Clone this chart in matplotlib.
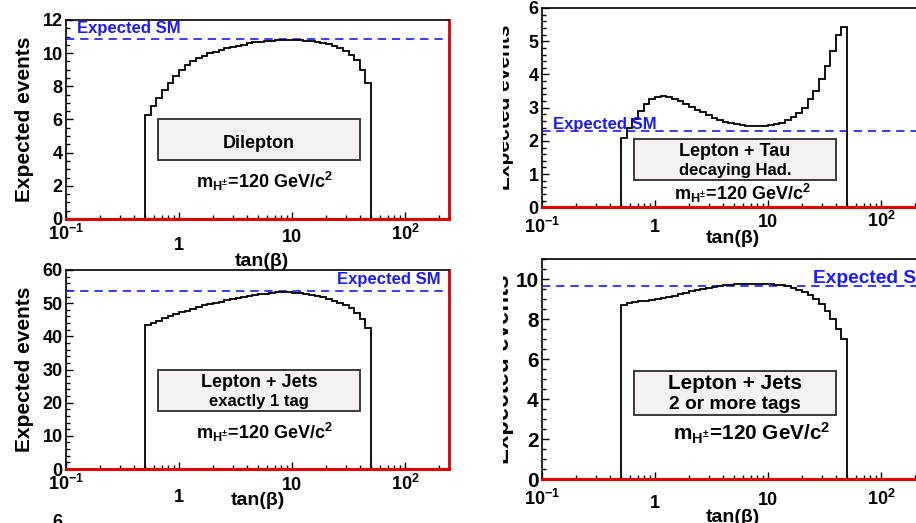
import numpy as np
import matplotlib.pyplot as plt
from matplotlib.patches import Rectangle
from matplotlib.ticker import MultipleLocator, LogLocator, NullFormatter
from matplotlib.transforms import Bbox, TransformedBbox, offset_copy

plt.rcParams['font.family'] = 'Liberation Sans'
plt.rcParams['font.weight'] = 'bold'
plt.rcParams['axes.labelweight'] = 'bold'
plt.rcParams['mathtext.fontset'] = 'custom'
for k in ('rm', 'it', 'bf', 'sf'):
    plt.rcParams['mathtext.' + k] = 'Liberation Sans:bold'

# 40 log bins in tan(beta), 0.5 .. 50
tanb_edges = np.logspace(-0.3, 1.7, 41)

dilepton = [6.3, 6.8, 7.3, 7.8, 8.2, 8.6, 9.0, 9.3, 9.5, 9.7,
            9.85, 10.0, 10.1, 10.2, 10.3, 10.4, 10.45, 10.5, 10.6, 10.65,
            10.7, 10.72, 10.75, 10.78, 10.8, 10.8, 10.78, 10.77, 10.75, 10.72,
            10.68, 10.62, 10.55, 10.45, 10.32, 10.15, 9.9, 9.6, 9.0, 8.2]
lep_tau = [2.1, 2.4, 2.65, 2.9, 3.1, 3.25, 3.33, 3.35, 3.33, 3.27,
           3.2, 3.1, 3.02, 2.94, 2.86, 2.77, 2.7, 2.63, 2.57, 2.53,
           2.5, 2.47, 2.45, 2.44, 2.44, 2.45, 2.47, 2.5, 2.55, 2.63,
           2.72, 2.85, 3.0, 3.25, 3.5, 3.85, 4.25, 4.7, 5.2, 5.42]
lep_jets_1tag = [43.5, 44.1, 44.7, 45.4, 46.0, 46.6, 47.2, 47.7, 48.3, 48.8,
                 49.3, 49.7, 50.1, 50.5, 50.9, 51.2, 51.5, 51.8, 52.1, 52.4,
                 52.7, 52.9, 53.1, 53.3, 53.3, 53.3, 53.2, 53.0, 52.8, 52.5,
                 52.2, 51.8, 51.3, 50.8, 50.2, 49.4, 48.4, 47.0, 45.2, 42.5]
lep_jets_2tag = [8.73, 8.8, 8.86, 8.9, 8.93, 8.96, 9.0, 9.05, 9.1, 9.17,
                 9.25, 9.32, 9.4, 9.46, 9.52, 9.57, 9.62, 9.67, 9.71, 9.74,
                 9.76, 9.77, 9.78, 9.78, 9.78, 9.77, 9.76, 9.74, 9.7, 9.65,
                 9.57, 9.47, 9.35, 9.2, 9.0, 8.75, 8.4, 8.0, 7.5, 7.0]

sm_dilepton = 10.85
sm_lep_tau = 2.31
sm_lep_jets_1tag = 53.8
sm_lep_jets_2tag = 9.65

xtick_pos = [0.1, 1, 10, 100]
xtick_txt = [r'$10^{-1}$', '1', '10', r'$10^{2}$']
mh_txt = r'$m_{H^{\pm}}$=120 GeV/c$^{2}$'

W, H = 916, 523
fig = plt.figure(figsize=(W / 100, H / 100), dpi=100)


def px(l, t, r, b):
    return [l / W, (H - b) / H, (r - l) / W, (b - t) / H]


def panel(rect, counts, sm, ymax, ymaj, ymin, lines, box_y, line_y, mh_xy,
          sm_xy, sm_ha, drops, xlab_xy, lab_dx=-41, scale=1.0, clip_x=None):
    ax = fig.add_axes(rect)
    ax.set_xscale('log')
    ax.set_xlim(0.1, 245)
    ax.set_ylim(0, ymax)

    ax.stairs(counts, tanb_edges, baseline=0, color='black', lw=1.3, zorder=4)
    ax.axhline(sm, color='#1a1aff', lw=1.2, ls=(0, (5, 3.5)), zorder=3)
    ax.axhline(0, color='#e00000', lw=2.2, zorder=6, clip_on=False)

    for s in ax.spines.values():
        s.set_linewidth(1.2)
    ax.spines['right'].set_color('#d00000')
    ax.spines['right'].set_linewidth(2)

    ax.yaxis.set_major_locator(MultipleLocator(ymaj))
    ax.yaxis.set_minor_locator(MultipleLocator(ymin))
    ax.xaxis.set_major_locator(LogLocator(base=10))
    ax.xaxis.set_minor_locator(LogLocator(base=10, subs=range(2, 10)))
    ax.xaxis.set_major_formatter(NullFormatter())
    ax.xaxis.set_minor_formatter(NullFormatter())
    ax.tick_params(which='both', direction='in', top=False, right=False)
    ax.tick_params(which='major', length=5, width=1)
    ax.tick_params(which='minor', length=2.8, width=1)
    ax.tick_params(axis='y', labelsize=13 * scale, pad=2.5)

    # x tick labels, ROOT style
    for pos, txt, d in zip(xtick_pos, xtick_txt, drops):
        tr = offset_copy(ax.get_xaxis_transform(), fig=fig, y=-d, units='dots')
        ax.text(pos, 0, txt, transform=tr, ha='center', va='baseline', fontsize=13)

    ax.set_xlabel('tan(β)', fontsize=14, va='center')
    ax.xaxis.set_label_coords(*xlab_xy)
    ax.set_ylabel('Expected events', fontsize=15 * scale, va='center')
    ax.yaxis.set_label_coords(lab_dx / 383, 0.5)
    if clip_x is not None:
        lab = ax.yaxis.label
        lab.set_clip_box(TransformedBbox(Bbox([[clip_x / W, 0], [1, 1]]), fig.transFigure))
        lab.set_clip_on(True)

    bx0, bx1 = 0.240, 0.768
    ax.add_patch(Rectangle((bx0, box_y[0]), bx1 - bx0, box_y[1] - box_y[0],
                           transform=ax.transAxes, fc='#f5f0f3', ec='#3a3a3a',
                           lw=1.4, zorder=5))
    sizes = [13 * scale, 12 * scale]
    for txt, y, fs in zip(lines, line_y, sizes):
        ax.text((bx0 + bx1) / 2, y, txt, transform=ax.transAxes, ha='center',
                va='center', fontsize=fs, zorder=6)
    ax.text(mh_xy[0], mh_xy[1], mh_txt, transform=ax.transAxes, ha='center',
            va='center', fontsize=13 * scale, zorder=6)
    ax.text(sm_xy[0], sm_xy[1], 'Expected SM', transform=ax.transAxes, ha=sm_ha,
            va='center', fontsize=12 * scale, color='#1a1aff', zorder=6)
    return ax


panel(px(66, 20, 449, 219), dilepton, sm_dilepton, 12, 2, 0.5,
      ['Dilepton'], (0.296, 0.503), [0.38], (0.517, 0.187),
      (0.028, 0.958), 'left', [21, 31, 23, 21], (0.512, -43 / 199))

panel(px(542, 8, 925, 207.3), lep_tau, sm_lep_tau, 6, 1, 0.2,
      ['Lepton + Tau', 'decaying Had.'], (0.137, 0.341), [0.279, 0.187],
      (0.524, 0.07), (0.028, 0.416), 'left', [25.7, 24.7, 19.7, 19.7],
      (0.498, -31 / 199), lab_dx=-38, clip_x=503)

panel(px(66, 270, 449, 469), lep_jets_1tag, sm_lep_jets_1tag, 60, 10, 2,
      ['Lepton + Jets', 'exactly 1 tag'], (0.293, 0.497), [0.434, 0.338],
      (0.517, 0.182), (0.977, 0.95), 'right', [21, 32.7, 21, 21],
      (0.501, -31.5 / 199))

panel(px(542, 259.3, 925, 479.3), lep_jets_2tag, sm_lep_jets_2tag, 11, 2, 0.5,
      ['Lepton + Jets', '2 or more tags'], (0.291, 0.494), [0.436, 0.338],
      (0.548, 0.209), (0.707, 0.914), 'left', [25.7, 28.7, 25.7, 25.7],
      (0.498, -38.7 / 220), lab_dx=-40, scale=1.15, clip_x=503)

# top of a tick label from the row below
fig.text(57 / W, 9 / H, '6', fontsize=13, ha='center', va='top')

fig.savefig('out.png', dpi=100)
